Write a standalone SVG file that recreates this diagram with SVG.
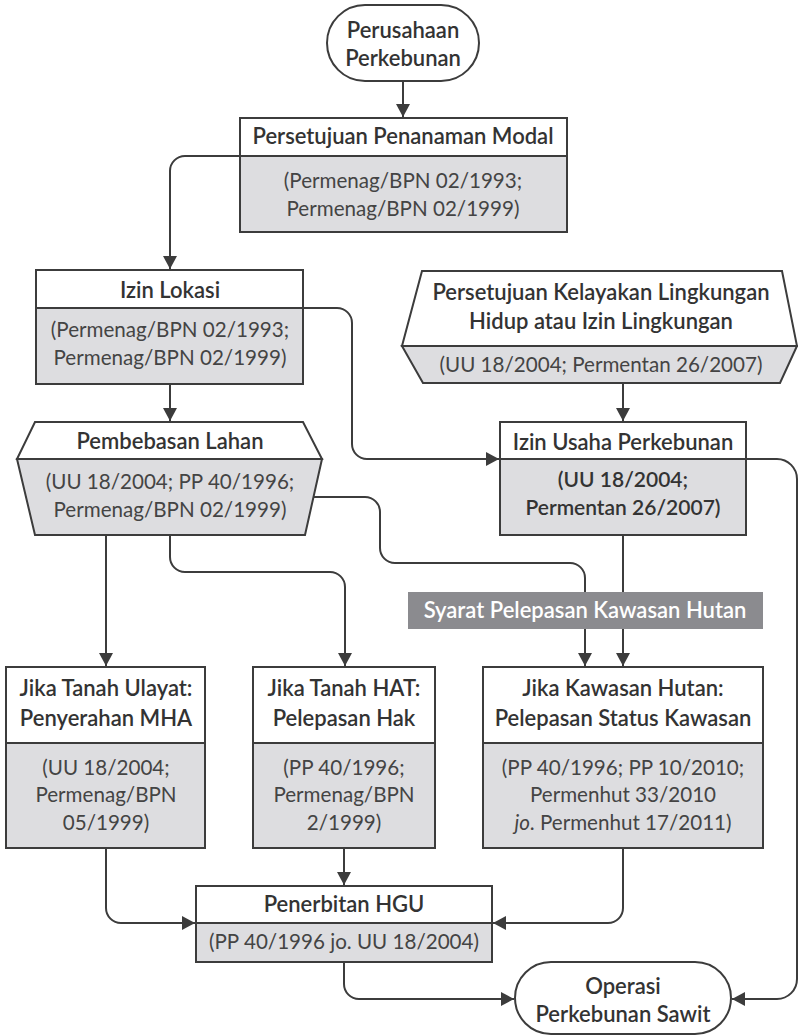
<svg xmlns="http://www.w3.org/2000/svg" width="798" height="1036" viewBox="0 0 798 1036">
<style>
.bx{fill:#ffffff;stroke:#3c3c3c;stroke-width:2}
.gr{fill:#dddde0;stroke:#3c3c3c;stroke-width:2}
.t{font-family:Lato,"Noto Sans",sans-serif;font-size:22px;font-weight:600;fill:#333333;text-anchor:middle}
.s{font-family:Lato,"Noto Sans",sans-serif;font-size:20.6px;font-weight:400;fill:#444444;text-anchor:middle}
.sb{font-family:Lato,"Noto Sans",sans-serif;font-size:21px;font-weight:600;fill:#333333;text-anchor:middle}
.w{font-family:Lato,"Noto Sans",sans-serif;font-size:22px;font-weight:600;fill:#ffffff;text-anchor:middle}
.c{fill:none;stroke:#3c3c3c;stroke-width:2}
</style>
<defs>
<marker id="ah" markerUnits="userSpaceOnUse" markerWidth="14" markerHeight="14" refX="13" refY="7" orient="auto">
<path d="M0,0 L13,7 L0,14 z" fill="#3c3c3c"/>
</marker>
</defs>
<rect width="798" height="1036" fill="#ffffff"/>
<g id="connectors">
<path class="c" d="M403,81 V117" marker-end="url(#ah)"/>
<path class="c" d="M240,156 H185 A15,15 0 0 0 170,171 V269" marker-end="url(#ah)"/>
<path class="c" d="M170,384 V421" marker-end="url(#ah)"/>
<path class="c" d="M303,308 H337 A15,15 0 0 1 352,323 V444 A15,15 0 0 0 367,459 H499" marker-end="url(#ah)"/>
<path class="c" d="M313,497 H365 A15,15 0 0 1 380,512 V548 A15,15 0 0 0 395,563 H570 A15,15 0 0 1 585,578 V666" marker-end="url(#ah)"/>
<path class="c" d="M623,383 V421" marker-end="url(#ah)"/>
<path class="c" d="M623,535 V666" marker-end="url(#ah)"/>
<path class="c" d="M746,459 H777 A20,20 0 0 1 797,479 V979 A20,20 0 0 1 777,999 H732" marker-end="url(#ah)"/>
<path class="c" d="M106,535 V666" marker-end="url(#ah)"/>
<path class="c" d="M170,535 V557 A15,15 0 0 0 185,572 H330 A15,15 0 0 1 345,587 V666" marker-end="url(#ah)"/>
<path class="c" d="M106,848 V908 A15,15 0 0 0 121,923 H195" marker-end="url(#ah)"/>
<path class="c" d="M344,848 V885" marker-end="url(#ah)"/>
<path class="c" d="M623,848 V908 A15,15 0 0 1 608,923 H493" marker-end="url(#ah)"/>
<path class="c" d="M344,962 V984 A15,15 0 0 0 359,999 H514" marker-end="url(#ah)"/>
</g>
<g id="n-perusahaan">
<rect class="bx" x="327" y="5" width="152" height="76" rx="38"/>
<text class="t" x="403" y="38">Perusahaan</text>
<text class="t" x="403" y="66">Perkebunan</text>
</g>
<g id="n-ppm">
<rect class="gr" x="240" y="118" width="327" height="114"/>
<rect class="bx" x="240" y="118" width="327" height="38"/>
<text class="t" x="403" y="144">Persetujuan Penanaman Modal</text>
<text class="s" x="403" y="188">(Permenag/BPN 02/1993;</text>
<text class="s" x="403" y="216">Permenag/BPN 02/1999)</text>
</g>
<g id="n-izinlokasi">
<rect class="gr" x="36" y="270" width="267" height="114"/>
<rect class="bx" x="36" y="270" width="267" height="38"/>
<text class="t" x="170" y="298">Izin Lokasi</text>
<text class="s" x="170" y="337">(Permenag/BPN 02/1993;</text>
<text class="s" x="170" y="365">Permenag/BPN 02/1999)</text>
</g>
<g id="n-pembebasan">
<polygon class="bx" points="35,422 303,422 322,459 17,459"/>
<polygon class="gr" points="17,459 322,459 305,535 35,535"/>
<text class="t" x="170" y="449">Pembebasan Lahan</text>
<text class="s" x="170" y="489">(UU 18/2004; PP 40/1996;</text>
<text class="s" x="170" y="517">Permenag/BPN 02/1999)</text>
</g>
<g id="n-kelayakan">
<polygon class="bx" points="422,271 782,271 797,346 402,346"/>
<polygon class="gr" points="402,346 797,346 780,383 423,383"/>
<text class="t" x="601" y="300">Persetujuan Kelayakan Lingkungan</text>
<text class="t" x="601" y="329">Hidup atau Izin Lingkungan</text>
<text class="s" x="601" y="372">(UU 18/2004; Permentan 26/2007)</text>
</g>
<g id="n-iup">
<rect class="gr" x="500" y="422" width="246" height="113"/>
<rect class="bx" x="500" y="422" width="246" height="37"/>
<text class="t" x="623" y="450">Izin Usaha Perkebunan</text>
<text class="sb" x="623" y="487">(UU 18/2004;</text>
<text class="sb" x="623" y="515">Permentan 26/2007)</text>
</g>
<g id="n-syarat">
<rect x="408" y="592" width="355" height="37" fill="#8b8b8f"/>
<text class="w" x="585" y="618">Syarat Pelepasan Kawasan Hutan</text>
</g>
<g id="n-ulayat">
<rect class="gr" x="6" y="667" width="199" height="181"/>
<rect class="bx" x="6" y="667" width="199" height="76"/>
<text class="t" x="106" y="696">Jika Tanah Ulayat:</text>
<text class="t" x="106" y="726">Penyerahan MHA</text>
<text class="s" x="106" y="775">(UU 18/2004;</text>
<text class="s" x="106" y="802">Permenag/BPN</text>
<text class="s" x="106" y="830">05/1999)</text>
</g>
<g id="n-hat">
<rect class="gr" x="253" y="667" width="182" height="181"/>
<rect class="bx" x="253" y="667" width="182" height="76"/>
<text class="t" x="344" y="696">Jika Tanah HAT:</text>
<text class="t" x="344" y="726">Pelepasan Hak</text>
<text class="s" x="344" y="775">(PP 40/1996;</text>
<text class="s" x="344" y="802">Permenag/BPN</text>
<text class="s" x="344" y="830">2/1999)</text>
</g>
<g id="n-kawasan">
<rect class="gr" x="483" y="667" width="280" height="181"/>
<rect class="bx" x="483" y="667" width="280" height="76"/>
<text class="t" x="623" y="696">Jika Kawasan Hutan:</text>
<text class="t" x="623" y="726">Pelepasan Status Kawasan</text>
<text class="s" x="623" y="775">(PP 40/1996; PP 10/2010;</text>
<text class="s" x="623" y="802">Permenhut 33/2010</text>
<text class="s" x="623" y="830"><tspan font-style="italic">jo</tspan>. Permenhut 17/2011)</text>
</g>
<g id="n-hgu">
<rect class="gr" x="196" y="886" width="296" height="76"/>
<rect class="bx" x="196" y="886" width="296" height="37"/>
<text class="t" x="344" y="912">Penerbitan HGU</text>
<text class="s" x="344" y="949">(PP 40/1996 jo. UU 18/2004)</text>
</g>
<g id="n-operasi">
<rect class="bx" x="515" y="962" width="216" height="72" rx="36"/>
<text class="t" x="623" y="994">Operasi</text>
<text class="t" x="623" y="1022">Perkebunan Sawit</text>
</g>
</svg>
